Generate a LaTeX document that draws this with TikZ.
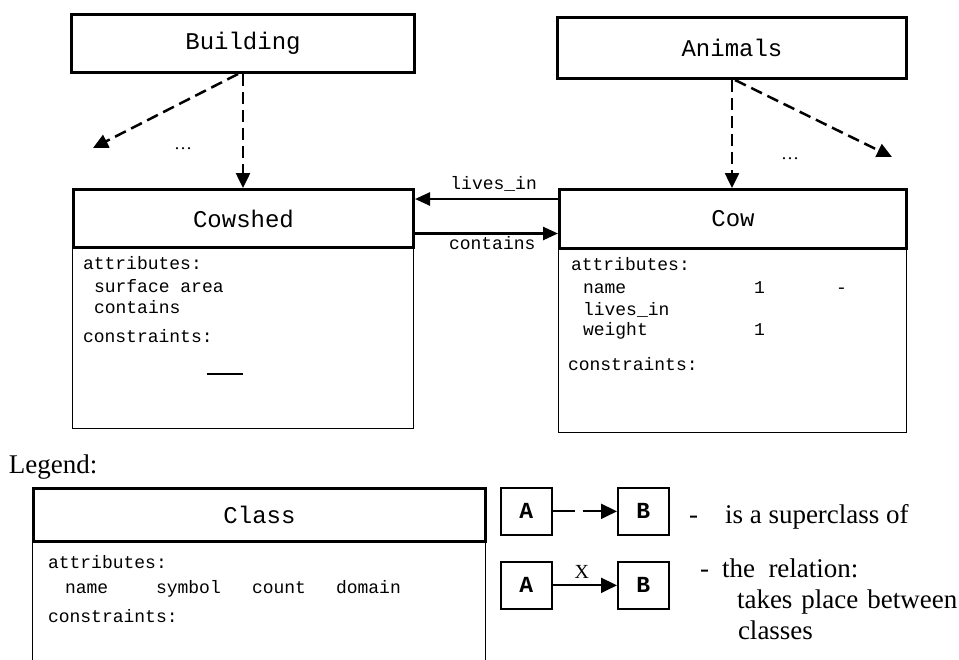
\documentclass[tikz,border=0pt]{standalone}
\usepackage{fontspec}
\setmainfont{Liberation Serif}
\setmonofont{Liberation Mono}
\usetikzlibrary{arrows.meta}

% font sizes (1pt of the canvas = 1px of the final image)
\newcommand\hdrfont{\ttfamily\fontsize{24}{28}\selectfont}
\newcommand\txtfont{\ttfamily\fontsize{18}{21}\selectfont}
\newcommand\abfont{\ttfamily\bfseries\fontsize{23}{26}\selectfont}
\newcommand\serfont{\rmfamily\fontsize{27}{31}\selectfont}
\newcommand\xfont{\rmfamily\fontsize{20}{24}\selectfont}
\newcommand\dotsfont{\rmfamily\fontsize{18}{20}\selectfont}

\tikzset{
  hdr/.style={draw, line width=3pt, fill=white, font=\hdrfont, inner sep=0pt, anchor=north west},
  bodybox/.style={draw, line width=1.3pt, inner sep=0pt, anchor=north west},
  txt/.style={font=\txtfont, inner sep=0pt, outer sep=0pt, anchor=base west},
  ser/.style={font=\serfont, inner sep=0pt, outer sep=0pt, anchor=base west},
  smallbox/.style={draw, line width=1.7pt, font=\abfont, inner sep=0pt,
    minimum width=51pt, minimum height=47pt, anchor=north west},
  inherit/.style={-{Triangle[length=15pt,width=14pt]}, line width=2.5pt,
    dash pattern=on 12pt off 6pt},
  rel/.style={-{Triangle[length=15pt,width=13pt]}, line width=2.5pt},
  leginherit/.style={-{Triangle[length=16pt,width=15pt]}, line width=2pt,
    dash pattern=on 22pt off 8pt on 80pt off 0pt},
  legrel/.style={-{Triangle[length=16pt,width=15pt]}, line width=2pt},
  edgelbl/.style={font=\txtfont, inner sep=0pt, outer sep=0pt},
}

\begin{document}
\begin{tikzpicture}[x=1pt,y=-1pt]
\clip (0,0) rectangle (959,659);

% ---------- class boxes ----------
\node[hdr, minimum width=343pt, minimum height=58pt] (building) at (70,13) {Building};
\node[hdr, minimum width=349pt, minimum height=61pt] (animals) at (556,16) {Animals};

\node[bodybox, minimum width=341pt, minimum height=180pt] (cowshedbody) at (72,248) {};
\node[hdr, minimum width=340pt, minimum height=58pt] (cowshed) at (72,188) {Cowshed};

\node[bodybox, minimum width=348pt, minimum height=183pt] (cowbody) at (558,249) {};
\node[hdr, minimum width=347pt, minimum height=59pt] (cow) at (558,188) {Cow};

% Cowshed contents
\node[txt] (cs1) at (83,269) {attributes:};
\node[txt] (cs2) at (94,292) {surface area};
\node[txt] (cs3) at (94,313) {contains};
\node[txt] (cs4) at (83,342) {constraints:};
\draw[line width=1.4pt] (207,374) -- (243,374);

% Cow contents
\node[txt] (cw1) at (571,270) {attributes:};
\node[txt] (cw2) at (583,293) {name};
\node[txt] (cw2b) at (754,293) {1};
\node[txt] (cw2c) at (836,293) {-};
\node[txt] (cw3) at (583,315) {lives\_in};
\node[txt] (cw4) at (583,335) {weight};
\node[txt] (cw4b) at (754,335) {1};
\node[txt] (cw5) at (568,370) {constraints:};

% ---------- superclass arrows ----------
\coordinate (bleft) at (93,148);
\coordinate (aright) at (892,157);
\draw[inherit] (building.south) -- (building.south |- cowshed.north);
\draw[inherit] ([xshift=-5pt]building.south) -- (bleft);
\draw[inherit] (animals.south) -- (animals.south |- cow.north);
\draw[inherit] ([xshift=3pt]animals.south) -- (aright);
\node[font=\dotsfont, inner sep=0pt, anchor=base west] (bdots) at (174,149) {…};
\node[font=\dotsfont, inner sep=0pt, anchor=base west] (adots) at (781,159) {…};

% ---------- relations ----------
\coordinate (liv) at ([yshift=20pt]cow.west);
\coordinate (con) at ([yshift=-15pt]cowshed.east);
\draw[rel] (liv) -- node[edgelbl, pos=0.45, above=8pt] (livlbl) {lives\_in} (liv -| cowshed.east);
\draw[rel] (con) -- node[edgelbl, pos=0.54, below=3pt] (conlbl) {contains} (con -| cow.west);

% ---------- legend ----------
\node[ser] (legend) at (9,473) {Legend:};

\node[bodybox, minimum width=453pt, minimum height=150pt] (classbody) at (32,542) {};
\node[hdr, minimum width=452pt, minimum height=53pt] (class) at (32,487) {Class};
\node[txt] (cl1) at (48,568) {attributes:};
\node[txt] (cl2) at (65,593) {name};
\node[txt] (cl3) at (156,593) {symbol};
\node[txt] (cl4) at (252,593) {count};
\node[txt] (cl5) at (336,593) {domain};
\node[txt] (cl6) at (48,622) {constraints:};

\node[smallbox] (a1) at (500,487) {A};
\node[smallbox] (b1) at (617,487) {B};
\node[smallbox] (a2) at (500,561) {A};
\node[smallbox] (b2) at (617,561) {B};
\draw[leginherit] (a1) -- (b1);
\draw[legrel] (a2) -- node[font=\xfont, inner sep=0pt, outer sep=0pt, above=7pt, xshift=-3pt] (xlbl) {X} (b2);

\node[ser] (d1) at (689,523) {-};
\node[ser] (t1) at (725,523) {is a superclass of};
\node[ser] (d2) at (700,577) {-};
\node[ser] (t2) at (722,577) {the\ \ relation:};
\node[ser] (t3) at (737,608) {takes\hspace{9pt}place\hspace{9pt}between};
\node[ser] (t4) at (738,639) {classes};
\end{tikzpicture}
\end{document}
